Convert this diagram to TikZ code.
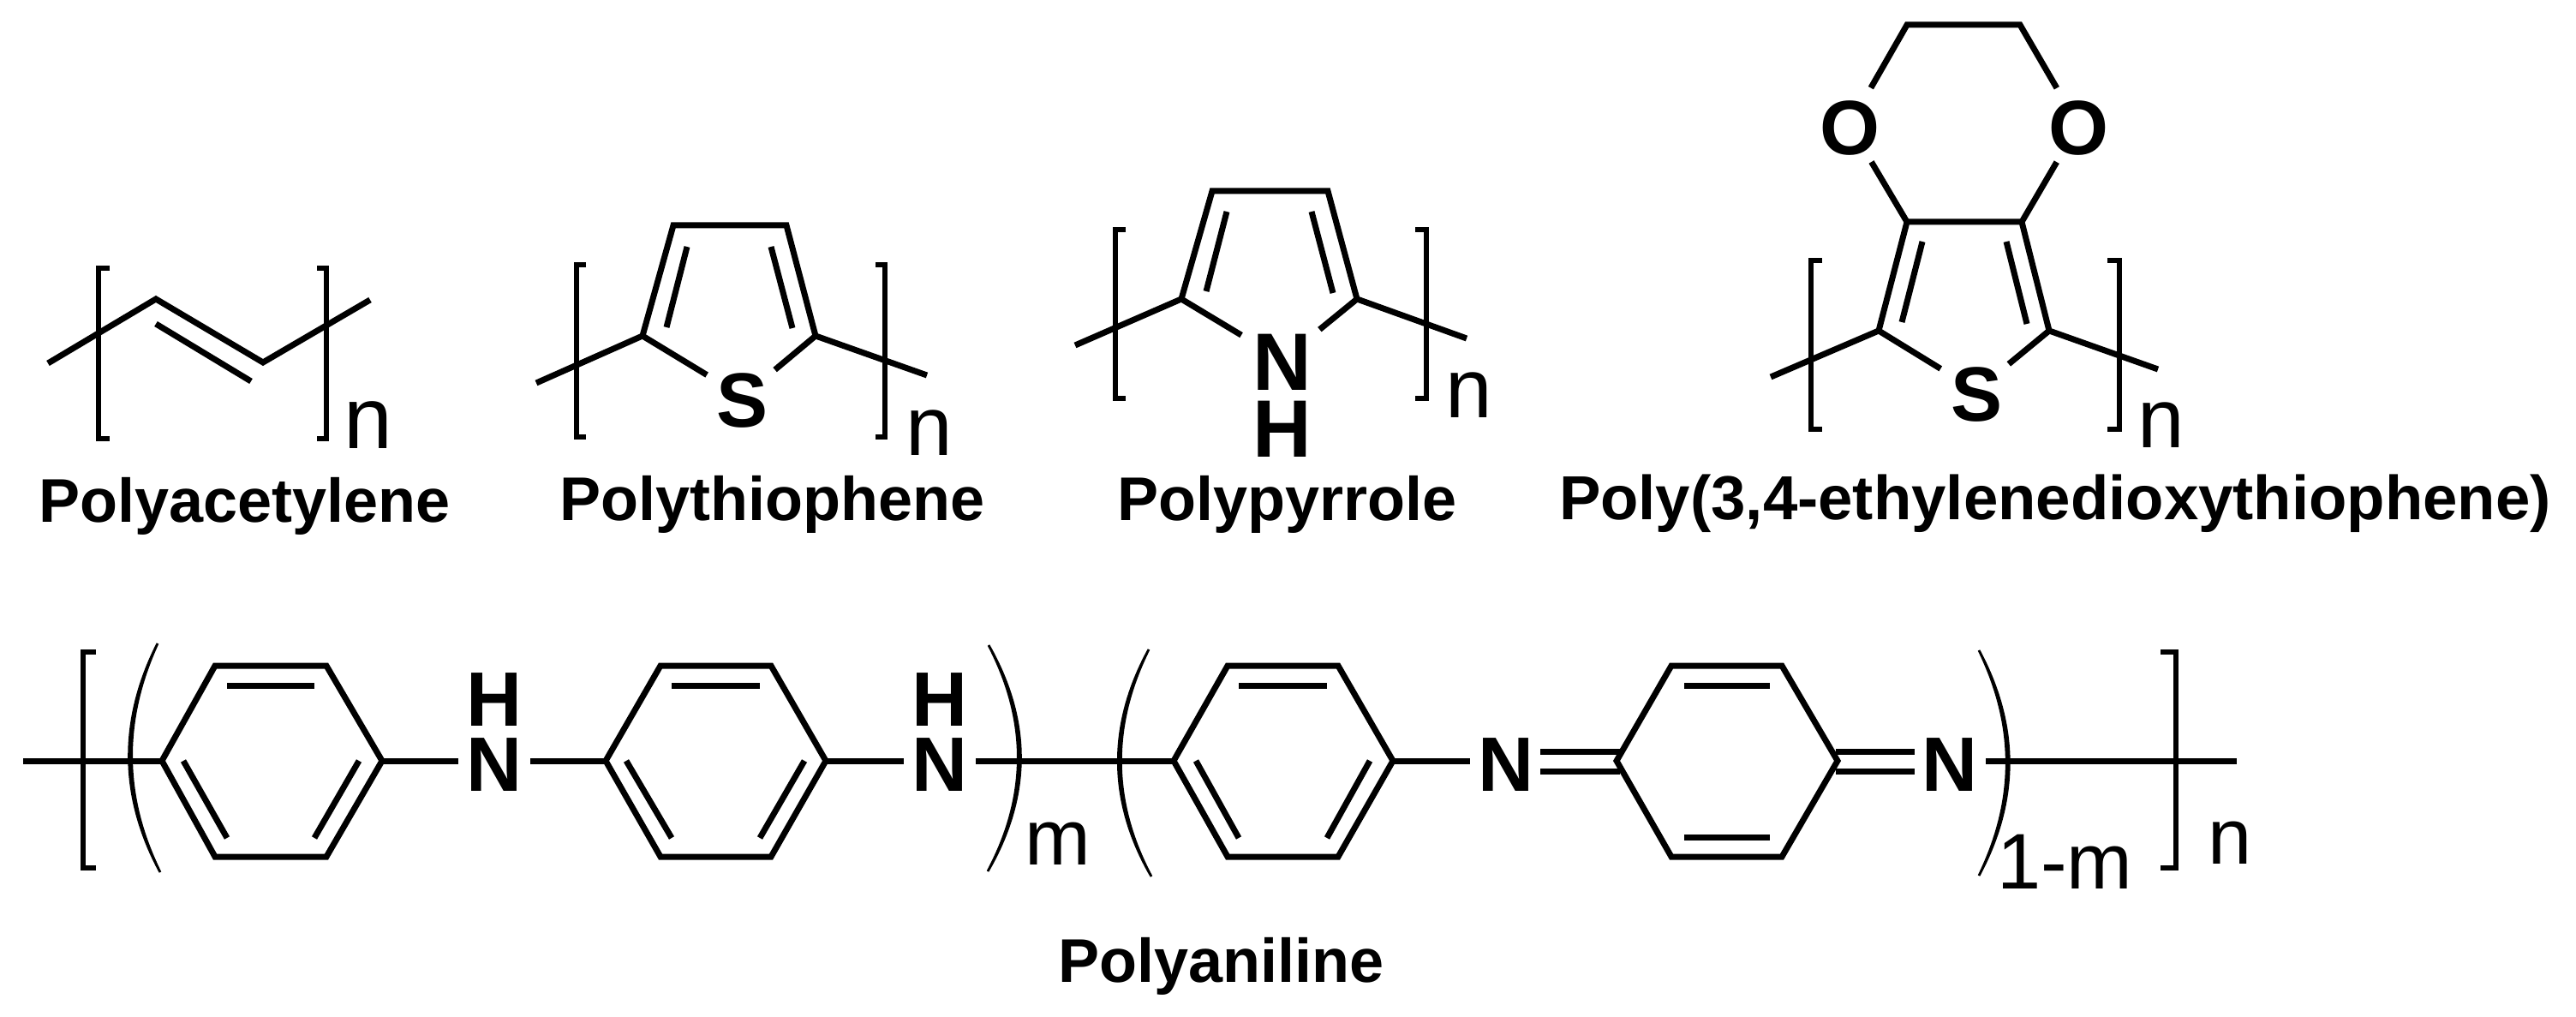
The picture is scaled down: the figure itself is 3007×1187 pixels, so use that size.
\documentclass[tikz,border=0pt]{standalone}
\usepackage{fontspec}
\setmainfont{Liberation Sans}
\newcommand\AtomT[1]{\makebox[0pt]{#1}}
\tikzset{
  bond/.style={line width=3.5pt,line join=miter,miter limit=10},
  brk/.style={line width=3.3pt,line join=miter},
  parenshape/.style={fill=black,draw=black,line width=1.4pt},
  atomS/.style={circle,inner sep=0pt,outer sep=0pt,minimum size=#1,text height=35pt,text depth=0pt,font=\fontsize{45pt}{45pt}\selectfont\bfseries},
  atomH/.style={inner sep=0pt,outer sep=0pt,anchor=base,font=\fontsize{45pt}{45pt}\selectfont\bfseries},
  caption/.style={inner sep=0pt,outer sep=0pt,anchor=base west,font=\fontsize{36pt}{36pt}\selectfont\bfseries},
  sub/.style={inner sep=0pt,outer sep=0pt,anchor=base west,font=\fontsize{#1}{#1}\selectfont},
}
\begin{document}
\begin{tikzpicture}[x=0.5pt,y=-0.5pt]
\useasboundingbox (0,0) rectangle (3007,1187);
\fill[white] (0,0) rectangle (3007,1187);
% ---------- Polyacetylene
\coordinate (a1) at (56,424); \coordinate (a2) at (182,349); \coordinate (a3) at (307,423); \coordinate (a4) at (432,350);
\coordinate (a5) at (182,378); \coordinate (a6) at (293,445);
\draw[bond] (a1) -- (a2) -- (a3) -- (a4);
\draw[bond] (a5) -- (a6);
\draw[brk] (128,313) -- (115,313) -- (115,512) -- (128,512);
\draw[brk] (370,313) -- (381,313) -- (381,512) -- (370,512);
\node[sub=51pt] (an) at (401,523) {n};
\node[caption] (al) at (45,609) {Polyacetylene};
% ---------- Polythiophene
\node[atomS=49pt] (ts) at (867,463) {\AtomT{S}};
\coordinate (t1) at (626,447); \coordinate (t2) at (750,392); \coordinate (t3) at (786,263); \coordinate (t4) at (918,263); \coordinate (t5) at (952,392); \coordinate (t6) at (1082,438);
\coordinate (t7) at (802,288); \coordinate (t8) at (778,382); \coordinate (t9) at (900,288); \coordinate (t10) at (925,383);
\draw[bond] (t1) -- (t2) -- (t3) -- (t4) -- (t5) -- (t6);
\draw[bond] (t2) -- (ts); \draw[bond] (t5) -- (ts);
\draw[bond] (t7) -- (t8); \draw[bond] (t9) -- (t10);
\draw[brk] (684,309) -- (673,309) -- (673,510) -- (684,510);
\draw[brk] (1022,309) -- (1033,309) -- (1033,510) -- (1022,510);
\node[sub=49pt] (tn) at (1057,531) {n};
\node[caption] (tl) at (653,607) {Polythiophene};
% ---------- Polypyrrole
\node[atomS=56pt,font=\fontsize{47.5pt}{47.5pt}\selectfont\bfseries] (pN) at (1497,420) {\AtomT{N}};
\node[atomH,font=\fontsize{47.5pt}{47.5pt}\selectfont\bfseries] (pH) at (1497,533) {H};
\coordinate (p1) at (1255,403); \coordinate (p2) at (1379,349); \coordinate (p3) at (1415,223); \coordinate (p4) at (1550,223); \coordinate (p5) at (1584,349); \coordinate (p6) at (1712,395);
\coordinate (p7) at (1432,247); \coordinate (p8) at (1408,340); \coordinate (p9) at (1531,247); \coordinate (p10) at (1556,342);
\draw[bond] (p1) -- (p2) -- (p3) -- (p4) -- (p5) -- (p6);
\draw[bond] (p2) -- (pN); \draw[bond] (p5) -- (pN);
\draw[bond] (p7) -- (p8); \draw[bond] (p9) -- (p10);
\draw[brk] (1314,268) -- (1302,268) -- (1302,465) -- (1314,465);
\draw[brk] (1652,268) -- (1665,268) -- (1665,465) -- (1652,465);
\node[sub=49pt] (pn) at (1687,487) {n};
\node[caption] (pl) at (1304,607) {Polypyrrole};
% ---------- PEDOT
\node[atomS=50pt] (eO1) at (2159,146) {\AtomT{O}};
\node[atomS=50pt] (eO2) at (2426,146) {\AtomT{O}};
\node[atomS=49pt] (eS) at (2307,456) {\AtomT{S}};
\coordinate (e1) at (2226,29); \coordinate (e2) at (2358,29); \coordinate (e3) at (2226,259); \coordinate (e4) at (2360,259);
\coordinate (e5) at (2193,386); \coordinate (e6) at (2392,386); \coordinate (e7) at (2067,440); \coordinate (e8) at (2519,431);
\coordinate (e9) at (2244,282); \coordinate (e10) at (2220,376); \coordinate (e11) at (2342,282); \coordinate (e12) at (2366,378);
\draw[bond] (eO1) -- (e1) -- (e2) -- (eO2);
\draw[bond] (eO1) -- (e3); \draw[bond] (eO2) -- (e4);
\draw[bond] (e7) -- (e5) -- (e3) -- (e4) -- (e6) -- (e8);
\draw[bond] (e5) -- (eS); \draw[bond] (e6) -- (eS);
\draw[bond] (e9) -- (e10); \draw[bond] (e11) -- (e12);
\draw[brk] (2127,304) -- (2114,304) -- (2114,501) -- (2127,501);
\draw[brk] (2460,304) -- (2474,304) -- (2474,501) -- (2460,501);
\node[sub=49pt] (en) at (2495,522) {n};
\node[caption,font=\fontsize{36.3pt}{36.3pt}\selectfont\bfseries] (el) at (1820,606) {Poly(3,4-ethylenedioxythiophene)};
% ---------- Polyaniline
\node[atomS=42pt] (n1) at (577,888) {\AtomT{N}};
\node[atomH] (h1) at (577,847) {H};
\node[atomS=42pt] (n2) at (1097,888) {\AtomT{N}};
\node[atomH] (h2) at (1097,847) {H};
\node[atomS=42pt] (n3) at (1758,888) {\AtomT{N}};
\node[atomS=42pt] (n4) at (2276,888) {\AtomT{N}};
\coordinate (lend) at (27,888); \coordinate (rend) at (2611,888);
% ring 1
\coordinate (r1a) at (189,888); \coordinate (r1b) at (251,777); \coordinate (r1c) at (381,777); \coordinate (r1d) at (446,888); \coordinate (r1e) at (381,1000); \coordinate (r1f) at (251,1000);
\draw[bond] (r1a) -- (r1b) -- (r1c) -- (r1d) -- (r1e) -- (r1f) -- cycle;
\draw[bond] (265,800) -- (367,800); \draw[bond] (214,888) -- (265,978); \draw[bond] (419,888) -- (367,978);
% ring 2
\coordinate (r2a) at (707,888); \coordinate (r2b) at (771,777); \coordinate (r2c) at (900,777); \coordinate (r2d) at (964,888); \coordinate (r2e) at (900,1000); \coordinate (r2f) at (771,1000);
\draw[bond] (r2a) -- (r2b) -- (r2c) -- (r2d) -- (r2e) -- (r2f) -- cycle;
\draw[bond] (784,800) -- (887,800); \draw[bond] (731,888) -- (784,978); \draw[bond] (939,888) -- (887,978);
% ring 3
\coordinate (r3a) at (1370,888); \coordinate (r3b) at (1433,777); \coordinate (r3c) at (1562,777); \coordinate (r3d) at (1626,888); \coordinate (r3e) at (1562,1000); \coordinate (r3f) at (1433,1000);
\draw[bond] (r3a) -- (r3b) -- (r3c) -- (r3d) -- (r3e) -- (r3f) -- cycle;
\draw[bond] (1446,800) -- (1549,800); \draw[bond] (1396,888) -- (1446,978); \draw[bond] (1599,888) -- (1549,978);
% ring 4
\coordinate (r4a) at (1887,888); \coordinate (r4b) at (1951,777); \coordinate (r4c) at (2080,777); \coordinate (r4d) at (2145,888); \coordinate (r4e) at (2080,1000); \coordinate (r4f) at (1951,1000);
\draw[bond] (r4a) -- (r4b) -- (r4c) -- (r4d) -- (r4e) -- (r4f) -- cycle;
\draw[bond] (1966,800) -- (2066,800); \draw[bond] (1966,977) -- (2066,977);
% chain
\draw[bond] (lend) -- (r1a); \draw[bond] (r1d) -- (n1); \draw[bond] (n1) -- (r2a); \draw[bond] (r2d) -- (n2); \draw[bond] (n2) -- (r3a); \draw[bond] (r3d) -- (n3); \draw[bond] (n4) -- (rend);
\coordinate (d1) at (1798,877); \coordinate (d2) at (1891,877); \coordinate (d3) at (1798,900); \coordinate (d4) at (1891,900);
\coordinate (d5) at (2143,877); \coordinate (d6) at (2235,877); \coordinate (d7) at (2143,900); \coordinate (d8) at (2235,900);
\draw[bond] (d1) -- (d2); \draw[bond] (d3) -- (d4); \draw[bond] (d5) -- (d6); \draw[bond] (d7) -- (d8);
% brackets and parentheses
\draw[brk] (112,761) -- (97,761) -- (97,1013) -- (112,1013);
\draw[brk] (2522,761) -- (2540,761) -- (2540,1013) -- (2522,1013);
\draw[parenshape] (184,751) .. controls (143,840) and (143,929) .. (187,1018) .. controls (139,929) and (139,840) .. (184,751) -- cycle;
\draw[parenshape] (1154,753) .. controls (1200,841) and (1200,929) .. (1153,1017) .. controls (1204,929) and (1204,841) .. (1154,753) -- cycle;
\draw[parenshape] (1341,758) .. controls (1297,846) and (1297,935) .. (1344,1023) .. controls (1293,935) and (1293,846) .. (1341,758) -- cycle;
\draw[parenshape] (2310,759) .. controls (2353,847) and (2353,934) .. (2310,1022) .. controls (2357,934) and (2357,847) .. (2310,759) -- cycle;
\node[sub=46pt] (mA) at (1196,1009) {m};
\node[sub=46pt] (mB) at (2331,1037) {1-m};
\node[sub=46pt] (nA) at (2577,1008) {n};
\node[caption] (nl) at (1235,1146) {Polyaniline};
\end{tikzpicture}
\end{document}
